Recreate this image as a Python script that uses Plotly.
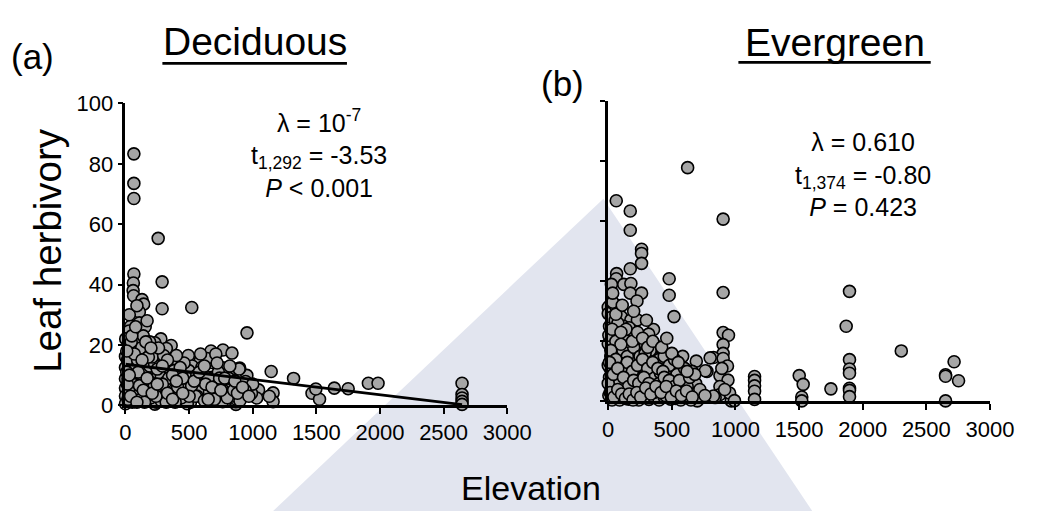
import plotly.graph_objects as go

# ---------------- data ----------------
# Panel (a) Deciduous: elevation (m) and leaf herbivory (%)
dec_elev = [
    66, 66, 66, 257, 66, 62, 60, 64, 130, 143,
    109, 288, 288, 521, 955, 109, 155, 40, 28, 2,
    104, 278, 231, 359, 321, 231, 79, 0, 66, 168,
    494, 588, 672, 766, 837, 524, 690, 766, 868, 0,
    79, 155, 257, 353, 206, 308, 410, 498, 601, 677,
    766, 0, 92, 193, 270, 359, 486, 588, 715, 817,
    0, 53, 168, 270, 346, 473, 562, 741, 0, 53,
    0, 231, 130, 511, 410, 954, 898, 1145, 1321, 1046,
    1160, 1160, 1031, 1466, 1525, 1641, 1750, 1496, 1909, 1985,
    2645, 2645, 2645, 2645, 2645, 868, 868, 868, 840, 944,
    944, 840, 893, 764, 715, 650, 601, 496, 481, 486,
    550, 351, 351, 359, 420, 244, 181, 30, 76, 30,
    50, 76, 20, 153, 191, 257, 282, 321, 229, 244,
    333, 382, 140, 190, 120, 35, 15, 95, 210, 300,
    130, 45, 225, 300, 110, 200, 20, 85, 150, 280,
    320, 380, 430, 440, 620, 660, 700, 800, 810, 730,
    640, 560, 460, 400, 30, 90, 45, 170, 100, 60,
    10, 180, 260, 340, 390, 520, 630, 740, 850, 900,
    990, 1000, 940, 1130, 590, 710, 25, 110, 240, 430,
    70, 130, 160, 200, 250, 290, 330, 370, 410, 450,
    500, 540, 580, 620, 650, 680, 720, 750, 780, 820,
    860, 880, 920, 970, 10, 50, 80, 15, 40, 90,
    140, 170, 210, 250, 290, 330, 370, 400, 450, 30,
]
dec_herb = [
    83.3, 73.5, 68.5, 55.3, 43.5, 40.5, 38.0, 36.3, 35.0, 33.5,
    30.9, 40.9, 32.0, 32.4, 24.0, 27.3, 26.0, 26.2, 24.6, 22.0,
    22.0, 22.0, 20.7, 19.8, 18.8, 18.3, 20.4, 16.2, 16.2, 17.3,
    16.5, 14.8, 18.0, 18.3, 17.3, 13.0, 14.1, 12.4, 12.0, 12.5,
    12.5, 13.6, 14.6, 13.6, 11.5, 10.9, 9.9, 11.5, 7.8, 9.3,
    7.3, 8.8, 8.3, 8.3, 9.9, 7.3, 6.2, 4.6, 6.2, 5.1,
    5.7, 4.1, 5.7, 5.1, 3.6, 4.1, 3.1, 3.6, 3.1, 1.0,
    0.5, 0.4, 2.5, 1.0, 2.0, 9.9, 12.3, 11.2, 8.9, 5.1,
    4.1, 1.2, 2.4, 4.0, 2.0, 5.7, 5.5, 5.4, 7.3, 7.3,
    7.3, 3.6, 2.4, 1.3, 0.3, 0.3, 1.2, 2.1, 3.1, 3.4,
    7.9, 7.3, 12.0, 1.2, 6.7, 9.1, 12.6, 8.8, 4.7, 0.5,
    3.0, 3.1, 5.4, 13.6, 11.0, 1.0, 5.7, 1.5, 7.3, 13.6,
    15.8, 12.0, 8.8, 11.5, 13.0, 10.4, 9.5, 7.9, 13.6, 16.8,
    12.6, 11.5, 23.0, 21.0, 19.0, 19.5, 15.0, 15.0, 16.0, 16.5,
    8.0, 10.0, 7.0, 3.0, 3.0, 2.5, 2.0, 5.5, 1.0, 1.5,
    1.0, 4.0, 6.0, 2.5, 1.5, 4.5, 2.0, 2.5, 9.0, 11.0,
    15.5, 10.0, 14.0, 16.5, 30.0, 33.0, 21.0, 28.0, 11.0, 7.0,
    11.0, 16.0, 19.0, 9.0, 1.0, 6.5, 7.0, 9.0, 5.0, 1.5,
    4.0, 7.0, 5.0, 3.0, 17.0, 17.0, 5.0, 6.5, 3.0, 12.5,
    17.0, 15.0, 21.0, 19.0, 12.0, 7.0, 15.0, 10.0, 6.0, 9.0,
    3.0, 8.0, 11.0, 13.0, 2.0, 6.0, 14.0, 5.0, 9.0, 13.0,
    8.0, 4.0, 6.0, 3.0, 18.0, 23.0, 26.0, 7.0, 3.0, 1.0,
    5.0, 9.0, 4.0, 7.0, 13.0, 4.0, 2.0, 8.0, 4.0, 10.0,
]
# fitted regression line for deciduous species (end points)
dec_fit_elev = [0, 2645]
dec_fit_herb = [13.6, 0.25]

# Panel (b) Evergreen
eve_elev = [
    624, 63, 173, 903, 173, 262, 262, 262, 173, 66,
    63, 25, 122, 178, 173, 262, 226, 479, 479, 13,
    71, 517, 903, 903, 945, 903, 903, 827, 903, 937,
    776, 878, 941, 878, 941, 878, 840, 967, 1150, 1150,
    1150, 1150, 1150, 1501, 1532, 1521, 1521, 1750, 1896, 1870,
    1896, 1896, 1896, 1896, 1896, 1896, 2303, 2718, 2651, 2651,
    2753, 2651, 585, 692, 534, 458, 369, 369, 267, 165,
    76, 0, 0, 0, 63, 102, 178, 229, 178, 356,
    318, 687, 585, 700, 827, 954, 992, 893, 915, 10,
    40, 90, 130, 200, 240, 290, 330, 20, 50, 100,
    140, 180, 220, 260, 300, 340, 380, 420, 10, 40,
    70, 110, 150, 190, 230, 270, 310, 350, 390, 430,
    470, 510, 550, 600, 640, 660, 5, 30, 60, 90,
    120, 160, 200, 240, 280, 320, 360, 400, 440, 490,
    530, 570, 610, 650, 15, 45, 80, 115, 150, 200,
    250, 285, 320, 360, 410, 450, 500, 540, 580, 620,
    25, 55, 120, 150, 210, 250, 130, 80, 20, 85,
    170, 290, 400, 440, 480, 520, 0, 0, 5, 35,
    165, 76, 763, 801, 30, 60, 100, 140, 190, 230,
    270, 310, 350, 20, 60, 110, 150, 190, 230, 270,
    310, 350, 390, 430, 10, 40, 75, 120, 160, 200,
    240, 280, 320, 360, 400, 440, 480, 520, 560, 600,
    640, 680, 720, 760, 15, 45, 75, 105, 135, 165,
    195, 225, 255, 295, 335, 375, 415, 455, 495, 535,
    575, 615, 660, 100, 60, 110, 35, 200, 300, 420,
    500, 550, 620, 460,
]
eve_herb = [
    77.7, 66.7, 63.3, 60.6, 56.9, 50.6, 49.2, 45.9, 44.1, 42.5,
    40.8, 38.9, 38.9, 39.2, 36.0, 36.0, 33.4, 40.8, 35.3, 31.9,
    31.9, 28.2, 36.2, 22.9, 22.0, 18.9, 16.0, 14.6, 14.3, 11.8,
    10.0, 8.6, 7.1, 5.0, 2.8, 2.3, 1.3, 0.2, 8.3, 7.0,
    5.2, 3.4, 0.7, 8.6, 5.7, 1.5, 0.2, 4.2, 36.6, 25.0,
    13.9, 10.8, 9.4, 4.4, 3.7, 1.6, 16.8, 13.2, 8.9, 8.4,
    6.9, 0.2, 15.0, 13.4, 11.8, 10.8, 18.7, 14.5, 18.7, 17.1,
    18.1, 19.2, 31.3, 29.2, 31.3, 28.2, 27.1, 27.1, 23.9, 23.9,
    22.4, 6.0, 3.9, 0.2, 1.8, 2.8, 0.3, 11.0, 4.0, 25.0,
    22.0, 24.0, 21.0, 22.0, 20.0, 19.0, 17.0, 15.0, 12.0, 14.0,
    11.0, 13.0, 15.0, 12.0, 14.0, 11.0, 9.0, 12.0, 8.0, 5.0,
    9.0, 6.0, 8.0, 5.0, 9.0, 6.0, 8.0, 5.0, 3.0, 6.0,
    4.0, 7.0, 2.0, 8.0, 3.0, 10.0, 2.0, 0.5, 2.0, 0.5,
    2.0, 0.8, 1.5, 0.5, 2.0, 0.7, 1.5, 0.5, 1.5, 0.8,
    1.0, 0.5, 1.5, 0.5, 11.0, 17.0, 21.0, 17.0, 15.0, 18.0,
    15.0, 10.0, 4.0, 8.0, 9.5, 2.0, 4.0, 9.0, 6.0, 5.0,
    28.0, 27.0, 25.0, 20.0, 11.0, 4.0, 4.0, 13.0, 5.0, 6.0,
    3.0, 16.0, 14.0, 15.0, 12.0, 14.0, 12.0, 6.0, 22.0, 33.0,
    24.5, 26.0, 10.2, 14.5, 24.0, 20.0, 19.0, 24.0, 20.0, 23.0,
    21.0, 18.0, 20.0, 17.0, 14.0, 11.0, 13.0, 10.0, 12.0, 14.0,
    11.0, 13.0, 11.0, 10.0, 13.0, 9.0, 11.0, 8.0, 5.0, 7.0,
    6.0, 8.0, 6.0, 3.0, 6.0, 8.0, 7.0, 5.0, 7.0, 11.0,
    8.0, 9.0, 4.0, 2.0, 3.0, 1.5, 4.0, 2.5, 1.0, 2.5,
    0.5, 3.0, 1.5, 4.5, 2.5, 5.0, 3.0, 5.0, 1.5, 3.5,
    2.0, 3.5, 1.5, 23.0, 29.0, 32.0, 36.0, 30.0, 27.0, 18.0,
    16.0, 13.0, 10.0, 21.0,
]

x_ticks = [0, 500, 1000, 1500, 2000, 2500, 3000]
y_ticks = [0, 20, 40, 60, 80, 100]

# ---------------- figure ----------------
FONT = "Liberation Sans, Arial, sans-serif"
W, H = 1047, 524


def px(x):
    return x / W


def py(y):
    return 1 - y / H


marker = dict(size=12, color="#a6a6a6", line=dict(color="black", width=1.6))

fig = go.Figure()
fig.add_trace(go.Scatter(x=dec_elev, y=dec_herb, mode="markers", marker=marker,
                         xaxis="x", yaxis="y", cliponaxis=False, showlegend=False))
fig.add_trace(go.Scatter(x=dec_fit_elev, y=dec_fit_herb, mode="lines",
                         line=dict(color="black", width=2.8),
                         xaxis="x", yaxis="y", cliponaxis=False, showlegend=False))
fig.add_trace(go.Scatter(x=eve_elev, y=eve_herb, mode="markers", marker=marker,
                         xaxis="x2", yaxis="y2", cliponaxis=False, showlegend=False))

axis_common = dict(showline=True, linewidth=2.5, linecolor="black", ticks="outside",
                   tickwidth=2.2, tickcolor="black", showgrid=False, zeroline=False,
                   tickfont=dict(family=FONT, size=22, color="black"), fixedrange=True)

fig.update_layout(
    width=W, height=H,
    margin=dict(l=0, r=0, t=0, b=0),
    paper_bgcolor="white", plot_bgcolor="rgba(0,0,0,0)",
    font=dict(family=FONT, color="black"),
    xaxis=dict(domain=[px(123), px(516)], range=[0, 3000], tickvals=x_ticks,
               ticklen=6, anchor="y", **axis_common),
    yaxis=dict(domain=[py(413), py(96)], range=[0, 100], tickvals=y_ticks,
               ticklen=5, anchor="x", **axis_common),
    xaxis2=dict(domain=[px(620), px(1013)], range=[0, 3000], tickvals=x_ticks,
                ticklen=6, anchor="y2", **axis_common),
    yaxis2=dict(domain=[py(409), py(93)], range=[0, 100], tickvals=y_ticks,
                ticklen=5, anchor="x2", showticklabels=False, **axis_common),
)

# faint watermark wedge in the background
fig.add_shape(type="path", xref="paper", yref="paper", layer="below",
              path=f"M {px(615)} {py(196)} L {px(830)} {py(524)} L {px(275)} {py(524)} Z",
              fillcolor="#e2e5ef", line=dict(width=0))

# underlines of the panel titles
fig.add_shape(type="line", xref="paper", yref="paper", x0=px(161), x1=px(351),
              y0=py(54), y1=py(54), line=dict(color="black", width=2.8))
fig.add_shape(type="line", xref="paper", yref="paper", x0=px(754), x1=px(952),
              y0=py(53), y1=py(53), line=dict(color="black", width=2.8))


def note(text, x, y, size, **kw):
    fig.add_annotation(text=text, x=px(x), y=py(y), xref="paper", yref="paper",
                       showarrow=False, xanchor="center", yanchor="middle",
                       font=dict(family=FONT, size=size, color="black"), **kw)


note("(a)", 27, 47, 35)
note("Deciduous", 256, 31, 39)
note("(b)", 573, 75, 35)
note("Evergreen", 853, 32, 39)
note("Leaf herbivory", 42, 250, 38.5, textangle=-90)
note("Elevation", 541, 500, 34)

note("λ = 10<sup>-7</sup><br>t<sub>1,292</sub> = -3.53<br><i>P</i> < 0.001",
     322, 149, 25, align="center")
note("λ = 0.610<br>t<sub>1,374</sub> = -0.80<br><i>P</i> = 0.423",
     882, 171, 25, align="center")

fig.write_html("out.html")
